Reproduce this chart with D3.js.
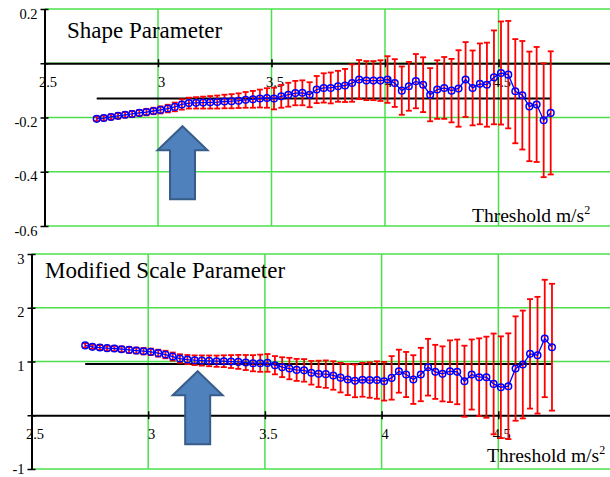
<!DOCTYPE html>
<html>
<head>
<meta charset="utf-8">
<script src="https://cdn.jsdelivr.net/npm/d3@7"></script>
<style>
body { margin: 0; background: #fff; }
svg text { font-family: "Liberation Serif", "Times New Roman", serif; fill: #000; }
</style>
</head>
<body>
<svg id="chart" width="610" height="477"></svg>
<script>
// threshold values (m/s^2), shared by both panels
const thresholds = [2.730, 2.761, 2.793, 2.824, 2.855, 2.886, 2.918, 2.949, 2.980, 3.011,
  3.043, 3.074, 3.105, 3.136, 3.168, 3.199, 3.230, 3.261, 3.293, 3.324,
  3.355, 3.386, 3.418, 3.449, 3.480, 3.511, 3.543, 3.574, 3.605, 3.636,
  3.668, 3.699, 3.730, 3.761, 3.793, 3.824, 3.855, 3.886, 3.918, 3.949,
  3.980, 4.011, 4.043, 4.074, 4.105, 4.136, 4.168, 4.199, 4.230, 4.261,
  4.293, 4.324, 4.355, 4.386, 4.418, 4.449, 4.480, 4.511, 4.543, 4.574,
  4.605, 4.636, 4.668, 4.699, 4.730]

const shapeVals = [-0.205, -0.202, -0.198, -0.194, -0.190, -0.187, -0.183, -0.180, -0.176, -0.172,
  -0.167, -0.161, -0.152, -0.147, -0.146, -0.145, -0.144, -0.143, -0.141, -0.140,
  -0.138, -0.135, -0.133, -0.130, -0.128, -0.130, -0.122, -0.116, -0.110, -0.109,
  -0.116, -0.097, -0.091, -0.091, -0.085, -0.082, -0.073, -0.060, -0.064, -0.064,
  -0.064, -0.060, -0.073, -0.101, -0.085, -0.066, -0.079, -0.116, -0.097, -0.091,
  -0.101, -0.093, -0.060, -0.091, -0.076, -0.079, -0.052, -0.036, -0.042, -0.103,
  -0.118, -0.159, -0.152, -0.210, -0.183]

const shapeErr = [0.008, 0.009, 0.009, 0.010, 0.010, 0.011, 0.011, 0.012, 0.012, 0.013,
  0.014, 0.016, 0.019, 0.020, 0.021, 0.022, 0.023, 0.024, 0.025, 0.026,
  0.027, 0.029, 0.031, 0.033, 0.036, 0.040, 0.042, 0.044, 0.045, 0.046,
  0.046, 0.050, 0.054, 0.057, 0.057, 0.061, 0.069, 0.072, 0.072, 0.072,
  0.075, 0.086, 0.088, 0.089, 0.090, 0.100, 0.101, 0.098, 0.108, 0.114,
  0.117, 0.141, 0.138, 0.138, 0.149, 0.155, 0.173, 0.190, 0.198, 0.192,
  0.200, 0.202, 0.212, 0.210, 0.227]

const scaleVals = [1.300, 1.273, 1.260, 1.248, 1.242, 1.229, 1.216, 1.204, 1.192, 1.180,
  1.155, 1.130, 1.092, 1.055, 1.036, 1.024, 1.018, 1.012, 1.006, 1.006,
  0.999, 0.993, 0.981, 0.968, 0.968, 0.974, 0.931, 0.894, 0.869, 0.844,
  0.835, 0.790, 0.770, 0.765, 0.740, 0.700, 0.665, 0.640, 0.660, 0.655,
  0.655, 0.633, 0.695, 0.820, 0.758, 0.664, 0.758, 0.894, 0.807, 0.770,
  0.819, 0.807, 0.633, 0.758, 0.708, 0.708, 0.583, 0.521, 0.540, 0.869,
  0.944, 1.142, 1.117, 1.428, 1.266]

const scaleErr = [0.040, 0.040, 0.045, 0.045, 0.050, 0.050, 0.055, 0.055, 0.060, 0.060,
  0.065, 0.070, 0.075, 0.080, 0.085, 0.090, 0.095, 0.100, 0.105, 0.110,
  0.120, 0.130, 0.140, 0.150, 0.160, 0.165, 0.170, 0.185, 0.200, 0.205,
  0.210, 0.220, 0.245, 0.255, 0.265, 0.275, 0.290, 0.305, 0.315, 0.330,
  0.348, 0.360, 0.405, 0.400, 0.420, 0.453, 0.497, 0.528, 0.503, 0.512,
  0.574, 0.602, 0.661, 0.652, 0.723, 0.754, 0.937, 0.947, 0.984, 0.971,
  1.003, 1.018, 1.086, 1.092, 1.180]

const shapeRef = -0.13
const scaleRef = 0.955

const xTickVals = [2.5, 3, 3.5, 4, 4.5]
const xGridVals = [3, 3.5, 4, 4.5, 5]
const shapeYTicks = [0.2, 0, -0.2, -0.4, -0.6]
const shapeYGrid = [0.2, 0, -0.2, -0.4, -0.6]
const scaleYTicks = [3, 2, 1, 0, -1]
const scaleYGrid = [3, 2, 1, -1]

const green = '#4be04b'

const svg = d3.select('#chart')

function drawPanel(cfg) {
  const data = thresholds.map((t, i) => ({x: t, v: cfg.vals[i], e: cfg.err[i]}))

  const x = d3.scaleLinear().domain([2.5, 5]).range(cfg.xRange)
  const y = d3.scaleLinear().domain(cfg.yDomain).range(cfg.yRange)

  const g = svg.append('g')

  // grid
  g.append('g').selectAll('line').data(cfg.gridY).join('line')
    .attr('x1', x(2.5)).attr('x2', x(5))
    .attr('y1', d => y(d)).attr('y2', d => y(d))
    .attr('stroke', green).attr('stroke-width', 1.5)

  g.append('g').selectAll('line').data(xGridVals).join('line')
    .attr('x1', d => x(d)).attr('x2', d => x(d))
    .attr('y1', y(cfg.yDomain[0])).attr('y2', y(cfg.yDomain[1]))
    .attr('stroke', green).attr('stroke-width', 1.5)

  // x axis through zero
  let xaxis = g.append('g')
    .attr('transform', 'translate(0,' + y(0) + ')')
    .call(d3.axisBottom(x)
      .tickValues(xTickVals)
      .tickSizeInner(4)
      .tickSizeOuter(0)
      .tickPadding(9)
      .tickFormat(d => String(d)))
  xaxis.attr('font-family', null).attr('font-size', null)
  xaxis.select('.domain').attr('stroke', '#000').attr('stroke-width', 2)
  xaxis.selectAll('.tick line').attr('y1', -4).attr('stroke-width', 1.5)
  xaxis.selectAll('.tick text')
    .attr('dx', 3)
    .style('font-size', '14.5px')

  // y axis
  let yaxis = g.append('g')
    .attr('transform', 'translate(' + x(2.5) + ',0)')
    .call(d3.axisLeft(y)
      .tickValues(cfg.yTicks)
      .tickSizeInner(4)
      .tickSizeOuter(0)
      .tickPadding(3)
      .tickFormat(d => d === 0 ? '' : String(d)))
  yaxis.attr('font-family', null).attr('font-size', null)
  yaxis.select('.domain').attr('stroke', '#000').attr('stroke-width', 2)
  yaxis.selectAll('.tick line').attr('x1', 4).attr('stroke-width', 1.5)
  yaxis.selectAll('.tick text')
    .attr('dy', d => d === cfg.yDomain[0] && cfg.clipLast ? '0.3em' : '0.62em')
    .style('font-size', '14.5px')

  // title
  g.append('text')
    .attr('x', cfg.titlePos[0]).attr('y', cfg.titlePos[1])
    .style('font-size', '23px')
    .text(cfg.title)

  // axis label
  let lab = g.append('text')
    .attr('x', cfg.labelPos[0]).attr('y', cfg.labelPos[1])
    .style('font-size', '19.5px')
    .text('Threshold m/s')
  lab.append('tspan').attr('dy', -8).style('font-size', '12px').text('2')

  // reference line
  g.append('line')
    .attr('x1', x(thresholds[0])).attr('x2', x(thresholds[thresholds.length - 1]))
    .attr('y1', y(cfg.ref)).attr('y2', y(cfg.ref))
    .attr('stroke', '#000').attr('stroke-width', 2)

  // error bars
  let bars = g.append('g').attr('stroke', '#ff0000').attr('stroke-width', 1.8)
  bars.selectAll('.eb').data(data).join('line').attr('class', 'eb')
    .attr('x1', d => x(d.x)).attr('x2', d => x(d.x))
    .attr('y1', d => y(d.v + d.e)).attr('y2', d => y(d.v - d.e))
  bars.selectAll('.capTop').data(data).join('line').attr('class', 'capTop')
    .attr('x1', d => x(d.x) - 3).attr('x2', d => x(d.x) + 3)
    .attr('y1', d => y(d.v + d.e)).attr('y2', d => y(d.v + d.e))
  bars.selectAll('.capBot').data(data).join('line').attr('class', 'capBot')
    .attr('x1', d => x(d.x) - 3).attr('x2', d => x(d.x) + 3)
    .attr('y1', d => y(d.v - d.e)).attr('y2', d => y(d.v - d.e))

  // series line and markers
  let valueline = d3.line()
    .x(d => x(d.x))
    .y(d => y(d.v))

  g.append('path')
    .datum(data)
    .attr('d', valueline)
    .attr('fill', 'none')
    .attr('stroke', '#0000ff')
    .attr('stroke-width', 1.3)

  g.append('g').selectAll('circle').data(data).join('circle')
    .attr('cx', d => x(d.x)).attr('cy', d => y(d.v))
    .attr('r', 3.3)
    .attr('fill', 'none')
    .attr('stroke', '#0000ff')
    .attr('stroke-width', 1.5)

  // annotation arrow, tip anchored in data units
  const tx = x(cfg.arrow[0]), ty = y(cfg.arrow[1])
  const pts = [
    [tx, ty], [tx + 25, ty + 24], [tx + 12.5, ty + 24], [tx + 12.5, ty + 73],
    [tx - 12.5, ty + 73], [tx - 12.5, ty + 24], [tx - 25, ty + 24]
  ]
  g.append('polygon')
    .attr('points', pts.map(p => p.join(',')).join(' '))
    .attr('fill', '#4f81bd')
    .attr('stroke', '#385d8a')
    .attr('stroke-width', 2)
}

drawPanel({
  vals: shapeVals, err: shapeErr, ref: shapeRef,
  xRange: [44.5, 612], yDomain: [-0.6, 0.2], yRange: [226, 9],
  yTicks: shapeYTicks, gridY: shapeYGrid, clipLast: false,
  title: 'Shape Parameter', titlePos: [67, 38],
  labelPos: [472, 222],
  arrow: [3.108, -0.232]
})

drawPanel({
  vals: scaleVals, err: scaleErr, ref: scaleRef,
  xRange: [31.5, 615], yDomain: [-1, 3], yRange: [469, 254],
  yTicks: scaleYTicks, gridY: scaleYGrid, clipLast: true,
  title: 'Modified Scale Parameter', titlePos: [45, 278],
  labelPos: [487, 462],
  arrow: [3.212, 0.82]
})
</script>
</body>
</html>
